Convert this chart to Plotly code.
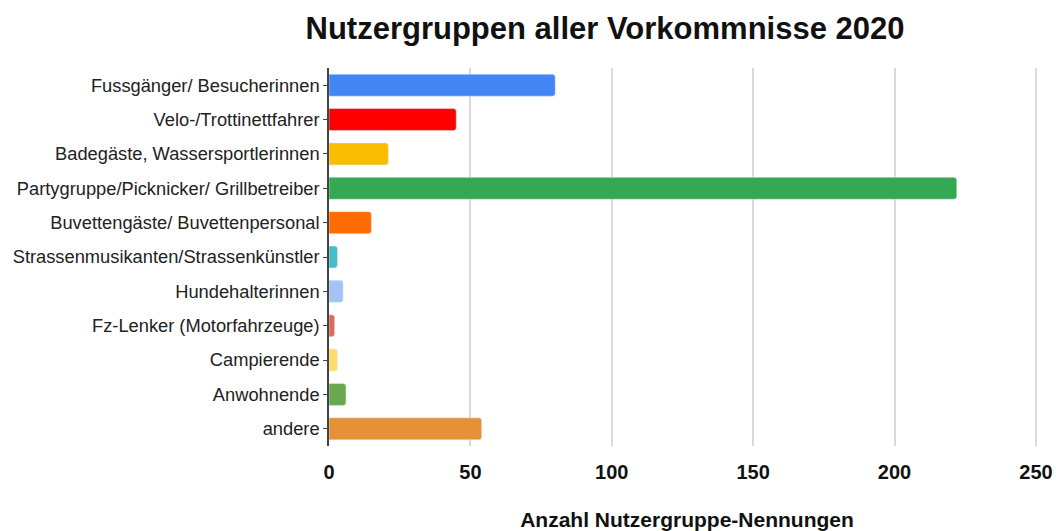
import plotly.graph_objects as go

# ── Data ─────────────────────────────────────────────────────────────────────

GROUPS = [
    "Fussgänger/ Besucherinnen",
    "Velo-/Trottinettfahrer",
    "Badegäste, Wassersportlerinnen",
    "Partygruppe/Picknicker/ Grillbetreiber",
    "Buvettengäste/ Buvettenpersonal",
    "Strassenmusikanten/Strassenkünstler",
    "Hundehalterinnen",
    "Fz-Lenker (Motorfahrzeuge)",
    "Campierende",
    "Anwohnende",
    "andere",
]
COUNTS = [80, 45, 21, 222, 15, 3, 5, 2, 3, 6, 54]
BAR_COLORS = [
    "#4285F4", "#FF0000", "#FBBC04", "#34A853", "#FF6D01", "#46BDC6",
    "#A4C2F4", "#DD6B5C", "#FFDB6E", "#6AA84F", "#E69138",
]
X_TICKS = [0, 50, 100, 150, 200, 250]

FONT = "Liberation Sans, Arial, sans-serif"

fig = go.Figure(go.Bar(
    x=COUNTS,
    y=GROUPS,
    orientation="h",
    marker=dict(color=BAR_COLORS, cornerradius=3),
    width=0.64,
    hoverinfo="x+y",
))

fig.update_layout(
    width=1058,
    height=531,
    paper_bgcolor="white",
    plot_bgcolor="white",
    margin=dict(l=329, r=13, t=68, b=85, autoexpand=False),
    title=dict(
        text="<b>Nutzergruppen aller Vorkommnisse 2020</b>",
        x=605 / 1058, xanchor="center", y=0.947, yanchor="middle",
        font=dict(family=FONT, size=31, color="#111111"),
    ),
    font=dict(family=FONT, color="#222222"),
    showlegend=False,
)

fig.update_xaxes(
    range=[0, 253.2],
    tickvals=X_TICKS,
    ticktext=[f"<b>{v}</b>" for v in X_TICKS],
    tickfont=dict(size=20, color="#111111"),
    ticklabelstandoff=12,
    showgrid=True,
    gridcolor="#d9d9d9",
    gridwidth=1.5,
    zeroline=False,
    showline=False,
    ticks="",
    automargin=False,
    title=dict(
        text="<b>Anzahl Nutzergruppe-Nennungen</b>",
        font=dict(size=21, color="#111111"),
        standoff=34,
    ),
)

fig.update_yaxes(
    autorange="reversed",
    tickfont=dict(size=18.3, color="#222222"),
    showline=True,
    linecolor="#444444",
    linewidth=1.5,
    ticks="outside",
    ticklen=4,
    tickcolor="#444444",
    showgrid=False,
    automargin=False,
)

# page body has a default 8px margin; remove it so the figure fills the window
fig.write_html(
    "out.html",
    config={"displayModeBar": False},
    post_script="document.body.style.margin='0';",
)
